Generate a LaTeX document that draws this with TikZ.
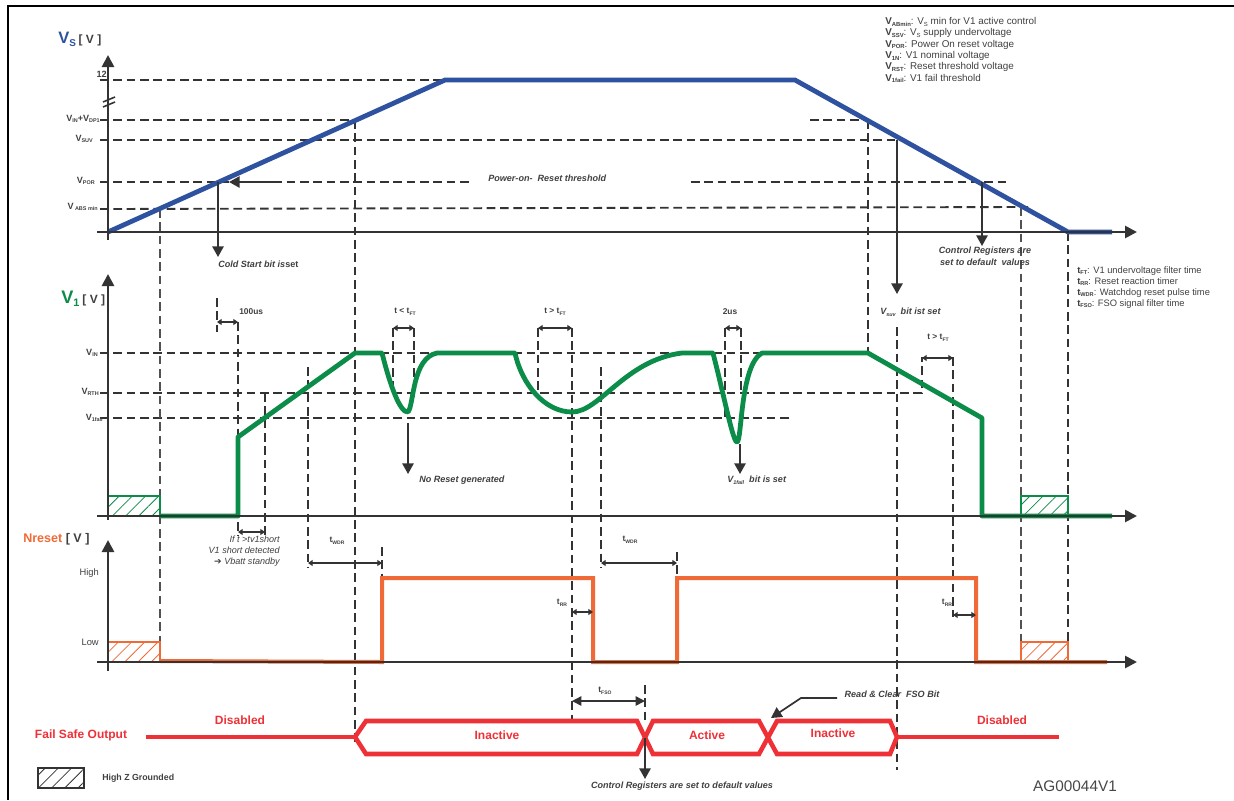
\documentclass[tikz,border=0pt]{standalone}
\usepackage{graphicx}
\usepackage{fontspec}
\setmainfont{Liberation Sans}
\newfontfamily\symfont{DejaVu Sans}
\usetikzlibrary{arrows.meta,patterns.meta,positioning}

\definecolor{vsblue}{HTML}{2E52A0}
\definecolor{vgreen}{HTML}{0B8C48}
\definecolor{nrorange}{HTML}{F06A37}
\definecolor{fsored}{HTML}{EE3137}
\definecolor{axisgray}{HTML}{333333}
\definecolor{txtgray}{HTML}{404040}

\newcommand{\lsub}[1]{\raisebox{-0.35ex}{\scalebox{0.6}{#1}}}

\begin{document}
\begin{tikzpicture}[x=0.75pt, y=-0.75pt,
  every node/.style={inner sep=0pt, text=txtgray},
  axis/.style={draw=axisgray, line width=2pt, -{Triangle[length=9pt,width=9pt]}},
  guide/.style={draw=axisgray, line width=1.4pt, dash pattern=on 6.5pt off 3.5pt},
  thinguide/.style={draw=axisgray!85, line width=0.9pt, dash pattern=on 6.5pt off 3.5pt},
  sigvs/.style={draw=vsblue, line width=3.6pt},
  sigvone/.style={draw=vgreen, line width=3.6pt},
  signres/.style={draw=nrorange, line width=3pt},
  sigfso/.style={draw=fsored, line width=3.4pt},
  pointer/.style={draw=axisgray, line width=1.3pt, -{Triangle[length=8pt,width=8.5pt]}},
  span/.style={draw=axisgray, line width=1.1pt, {Triangle[length=3.5pt,width=4.5pt]}-{Triangle[length=3.5pt,width=4.5pt]}},
  bigspan/.style={draw=axisgray, line width=1.1pt, {Triangle[length=7pt,width=7pt]}-{Triangle[length=7pt,width=7pt]}},
  hiz/.style={line width=1.4pt, pattern={Lines[angle=45,distance=7pt,line width=0.6pt]}},
  ylab/.style={font=\fontsize{6.8}{7.5}\selectfont\bfseries, anchor=east},
  tmark/.style={font=\fontsize{6.3}{7}\selectfont\bfseries},
  note/.style={font=\fontsize{6.8}{8.6}\selectfont\bfseries\itshape},
  legend/.style={font=\fontsize{7.4}{8.5}\selectfont, align=left, anchor=north west},
  state/.style={font=\fontsize{9}{10}\selectfont\bfseries, text=fsored}
]
\useasboundingbox (0,0) rectangle (1234,800);

% frame
\draw[line width=2.2pt] (8,800) -- (8,6) -- (1234,6);

% Vs levels
\draw[guide] (100,80) -- (445,80);
\draw[guide] (100,120) -- (356,120);
\draw[guide] (810,120) -- (868,120);
\draw[guide] (100,140) -- (897,140);
\draw[guide] (100,182) -- (472,182);
\draw[guide] (691,182) -- (1009,182);
\draw[guide] (100,209) -- (1028,207);

% V1 levels
\draw[guide] (100,353) -- (868,353);
\draw[guide] (100,393) -- (922,393) -- (922,357);
\draw[guide] (100,418) -- (792,418);

% time marks
\draw[thinguide] (160,209) -- (160,663);
\draw[guide] (355,120) -- (355,745);
\draw[guide] (868,120) -- (868,353);
\draw[guide] (897,327) -- (897,770);
\draw[thinguide] (1021,207) -- (1021,642);
\draw[guide] (1068,232) -- (1068,642);
\draw[guide] (217,298) -- (217,332);
\draw[guide] (238,322) -- (238,536);
\draw[guide] (265,393) -- (265,536);
\draw[guide] (308,367) -- (308,568);
\draw[guide] (382,547) -- (382,578);
\draw[guide] (393,328) -- (393,393);
\draw[guide] (414,328) -- (414,397);
\draw[guide] (538,328) -- (538,393);
\draw[guide] (572,328) -- (572,720);
\draw[guide] (601,367) -- (601,568);
\draw[guide] (677,552) -- (677,578);
\draw[guide] (725,328) -- (725,418);
\draw[guide] (741,328) -- (741,393);
\draw[guide] (953,357) -- (953,617);
\draw[guide] (645,685) -- (645,722);

% high Z boxes
\draw[hiz, draw=vgreen, pattern color=vgreen] (108,496) rectangle (160,516);
\draw[hiz, draw=vgreen, pattern color=vgreen] (1021,496) rectangle (1068,516);
\draw[hiz, draw=nrorange, pattern color=nrorange] (108,642) rectangle (160,662);
\draw[hiz, draw=nrorange, pattern color=nrorange] (1021,642) rectangle (1068,662);
\draw[hiz, draw=axisgray, pattern color=axisgray] (38,768) rectangle (84,788);

% signals
\draw[sigvs] (108,232) -- (445,80) -- (795,80) -- (1068,232) -- (1112,232);
\draw[sigvone, line join=round] (160,516) -- (238,516) -- (238,437) -- (355,353) -- (382,353)
  .. controls (390,385) and (400,413) .. (408,412)
  .. controls (414,405) and (412,358) .. (437,353) -- (515,353)
  .. controls (522,385) and (545,412) .. (572,412)
  .. controls (600,412) and (625,360) .. (682,353) -- (713,353)
  .. controls (725,400) and (733,442) .. (737,442)
  .. controls (742,442) and (740,365) .. (762,353) -- (868,353)
  -- (982,418) -- (982,516) -- (1112,516);
\draw[signres] (160,661) -- (382,662) -- (382,578) -- (593,578) -- (593,662) -- (677,662)
  -- (677,578) -- (976,578) -- (976,662) -- (1107,662);
\draw[sigfso] (146,737) -- (355,737);
\draw[sigfso] (355,737) -- (366,721) -- (637,721) -- (653,754) -- (759,754) -- (777,721)
  -- (890,721) -- (897,737) -- (890,754) -- (777,754) -- (759,721) -- (653,721)
  -- (637,754) -- (366,754) -- cycle;
\draw[sigfso] (897,737) -- (1059,737);

% axes
\draw[axis] (108,240) -- (108,55);
\draw[axis] (97,232) -- (1137,232);
\draw[axisgray, line width=1.2pt] (103,102) -- (115,97) (103,107) -- (115,102);
\draw[axis] (108,520) -- (108,274);
\draw[axis] (97,516) -- (1137,516);
\draw[axis] (108,671) -- (108,540);
\draw[axis] (97,662) -- (1137,662);

% axis titles
\node[anchor=base west, font=\fontsize{12.4}{13}\selectfont\bfseries, text=vsblue] (vslab) at (58,43)
  {V\lsub{S}\,\textcolor{txtgray}{\fontsize{9}{10}\selectfont[ V ]}};
\node[anchor=base west, font=\fontsize{13.6}{14}\selectfont\bfseries, text=vgreen] (vonelab) at (61,303)
  {V\lsub{1}\,\textcolor{txtgray}{\fontsize{9}{10}\selectfont[ V ]}};
\node[anchor=base west, font=\fontsize{9.4}{10}\selectfont\bfseries, text=nrorange] (nrlab) at (23,542)
  {Nreset \textcolor{txtgray}{[ V ]}};
\node[font=\fontsize{9}{10}\selectfont\bfseries, text=fsored] (fsolab) at (81,735) {Fail Safe Output};

% level labels
\node[ylab] (l12) at (107,74) {12};
\node[ylab] (lvin) at (100,119) {V\lsub{IN}+V\lsub{DP1}};
\node[ylab] (lsuv) at (93,139) {V\lsub{SUV}};
\node[ylab] (lpor) at (95,181) {V\lsub{POR}};
\node[ylab] (labs) at (98,207) {V\lsub{ ABS min}};
\node[ylab] (lvnom) at (98,353) {V\lsub{IN}};
\node[ylab] (lrth) at (99,392) {V\lsub{RTH}};
\node[ylab] (lfail) at (103,418) {V\lsub{1fail}};
\node[anchor=east, font=\fontsize{7}{8}\selectfont] (lhigh) at (99,573) {High};
\node[anchor=east, font=\fontsize{7}{8}\selectfont] (llow) at (99,642) {Low};

% legends
\node[legend] (vsleg) at (885,17)
  {\textbf{V\lsub{ABmin}}: V\lsub{S} min for V1 active control\\
   \textbf{V\lsub{SSV}}: V\lsub{S} supply undervoltage\\
   \textbf{V\lsub{POR}}: Power On reset voltage\\
   \textbf{V\lsub{1N}}: V1 nominal voltage\\
   \textbf{V\lsub{RST}}: Reset threshold voltage\\
   \textbf{V\lsub{1fail}}: V1 fail threshold};
\node[legend, font=\fontsize{7}{8.25}\selectfont] (tleg) at (1077,266)
  {\textbf{t\lsub{FT}}: V1 undervoltage filter time\\
   \textbf{t\lsub{RR}}: Reset reaction timer\\
   \textbf{t\lsub{WDR}}: Watchdog reset pulse time\\
   \textbf{t\lsub{FSO}}: FSO signal filter time};

% pointers and notes
\node[note, anchor=west] (porthr) at (488,178) {Power-on-\ \ Reset threshold};
\draw[pointer] (282,182) -- (229,182);
\draw[pointer] (218,182) -- (218,257);
\node[note, anchor=west] (cold) at (218,264) {Cold Start bit is\textup{set}};
\draw[pointer] (897,140) -- (897,294);
\node[note, anchor=west] (suvbit) at (880,312) {V\lsub{suv}\ \ bit ist set};
\draw[pointer] (982,182) -- (982,246);
\node[note, align=center, anchor=north] (ctrlreg) at (985,247) {Control Registers are\\set to default\ \ values};
\draw[pointer] (408,423) -- (408,474);
\node[note, anchor=west] (noreset) at (419,480) {No Reset generated};
\draw[pointer] (740,444) -- (740,474);
\node[note, anchor=west] (failbit) at (727,480) {V\lsub{1fail}\ \ bit is set};
\node[align=right, anchor=north east, font=\fontsize{6.8}{8}\selectfont\itshape] (short) at (280,536)
  {If t \textgreater tv1short\\V1 short detected\\{\symfont\upshape ➔} Vbatt standby};

% time spans
\draw[span] (217,322) -- (238,322);
\node[tmark, anchor=west] (t100) at (239,312) {100us};
\draw[span] (238,532) -- (265,532);
\draw[span] (308,563) -- (382,563);
\node[tmark] (twdra) at (337,541) {t\lsub{WDR}};
\draw[span] (393,328) -- (414,328);
\node[tmark] (tfta) at (405,312) {t \textless{} t\lsub{FT}};
\draw[span] (538,328) -- (572,328);
\node[tmark] (tftb) at (555,312) {t \textgreater{} t\lsub{FT}};
\draw[span] (601,563) -- (677,563);
\node[tmark] (twdrb) at (630,540) {t\lsub{WDR}};
\draw[span] (725,328) -- (741,328);
\node[tmark] (t2us) at (730,312) {2us};
\draw[span] (922,358) -- (953,358);
\node[tmark] (tftc) at (938,338) {t \textgreater{} t\lsub{FT}};
\draw[span] (572,612) -- (593,612);
\node[tmark] (trra) at (562,603) {t\lsub{RR}};
\draw[span] (953,615) -- (976,615);
\node[tmark] (trrb) at (947,603) {t\lsub{RR}};
\draw[bigspan] (572,701) -- (645,701);
\node[tmark] (tfso) at (605,691) {t\lsub{FSO}};

% fail safe states
\node[state] (disa) at (240,720) {Disabled};
\node[state] (inaca) at (497,735) {Inactive};
\node[state] (act) at (707,735) {Active};
\node[state] (inacb) at (833,733) {Inactive};
\node[state] (disb) at (1002,720) {Disabled};
\draw[pointer] (645,738) -- (645,779);
\node[note] (ctrlbot) at (682,786) {Control Registers are set to default values};
\node[note] (rdclr) at (892,694) {Read \& Clear\ \ FSO Bit};
\draw[pointer] (837,698) -- (801,698) -- (771,718);

% bottom legend
\node[anchor=west, font=\fontsize{6.6}{8}\selectfont\bfseries] (hizlab) at (102,778) {High Z Grounded};
\node[font=\fontsize{11.5}{12}\selectfont, text=axisgray!90] (agid) at (1075,786) {AG00044V1};
\end{tikzpicture}
\end{document}
